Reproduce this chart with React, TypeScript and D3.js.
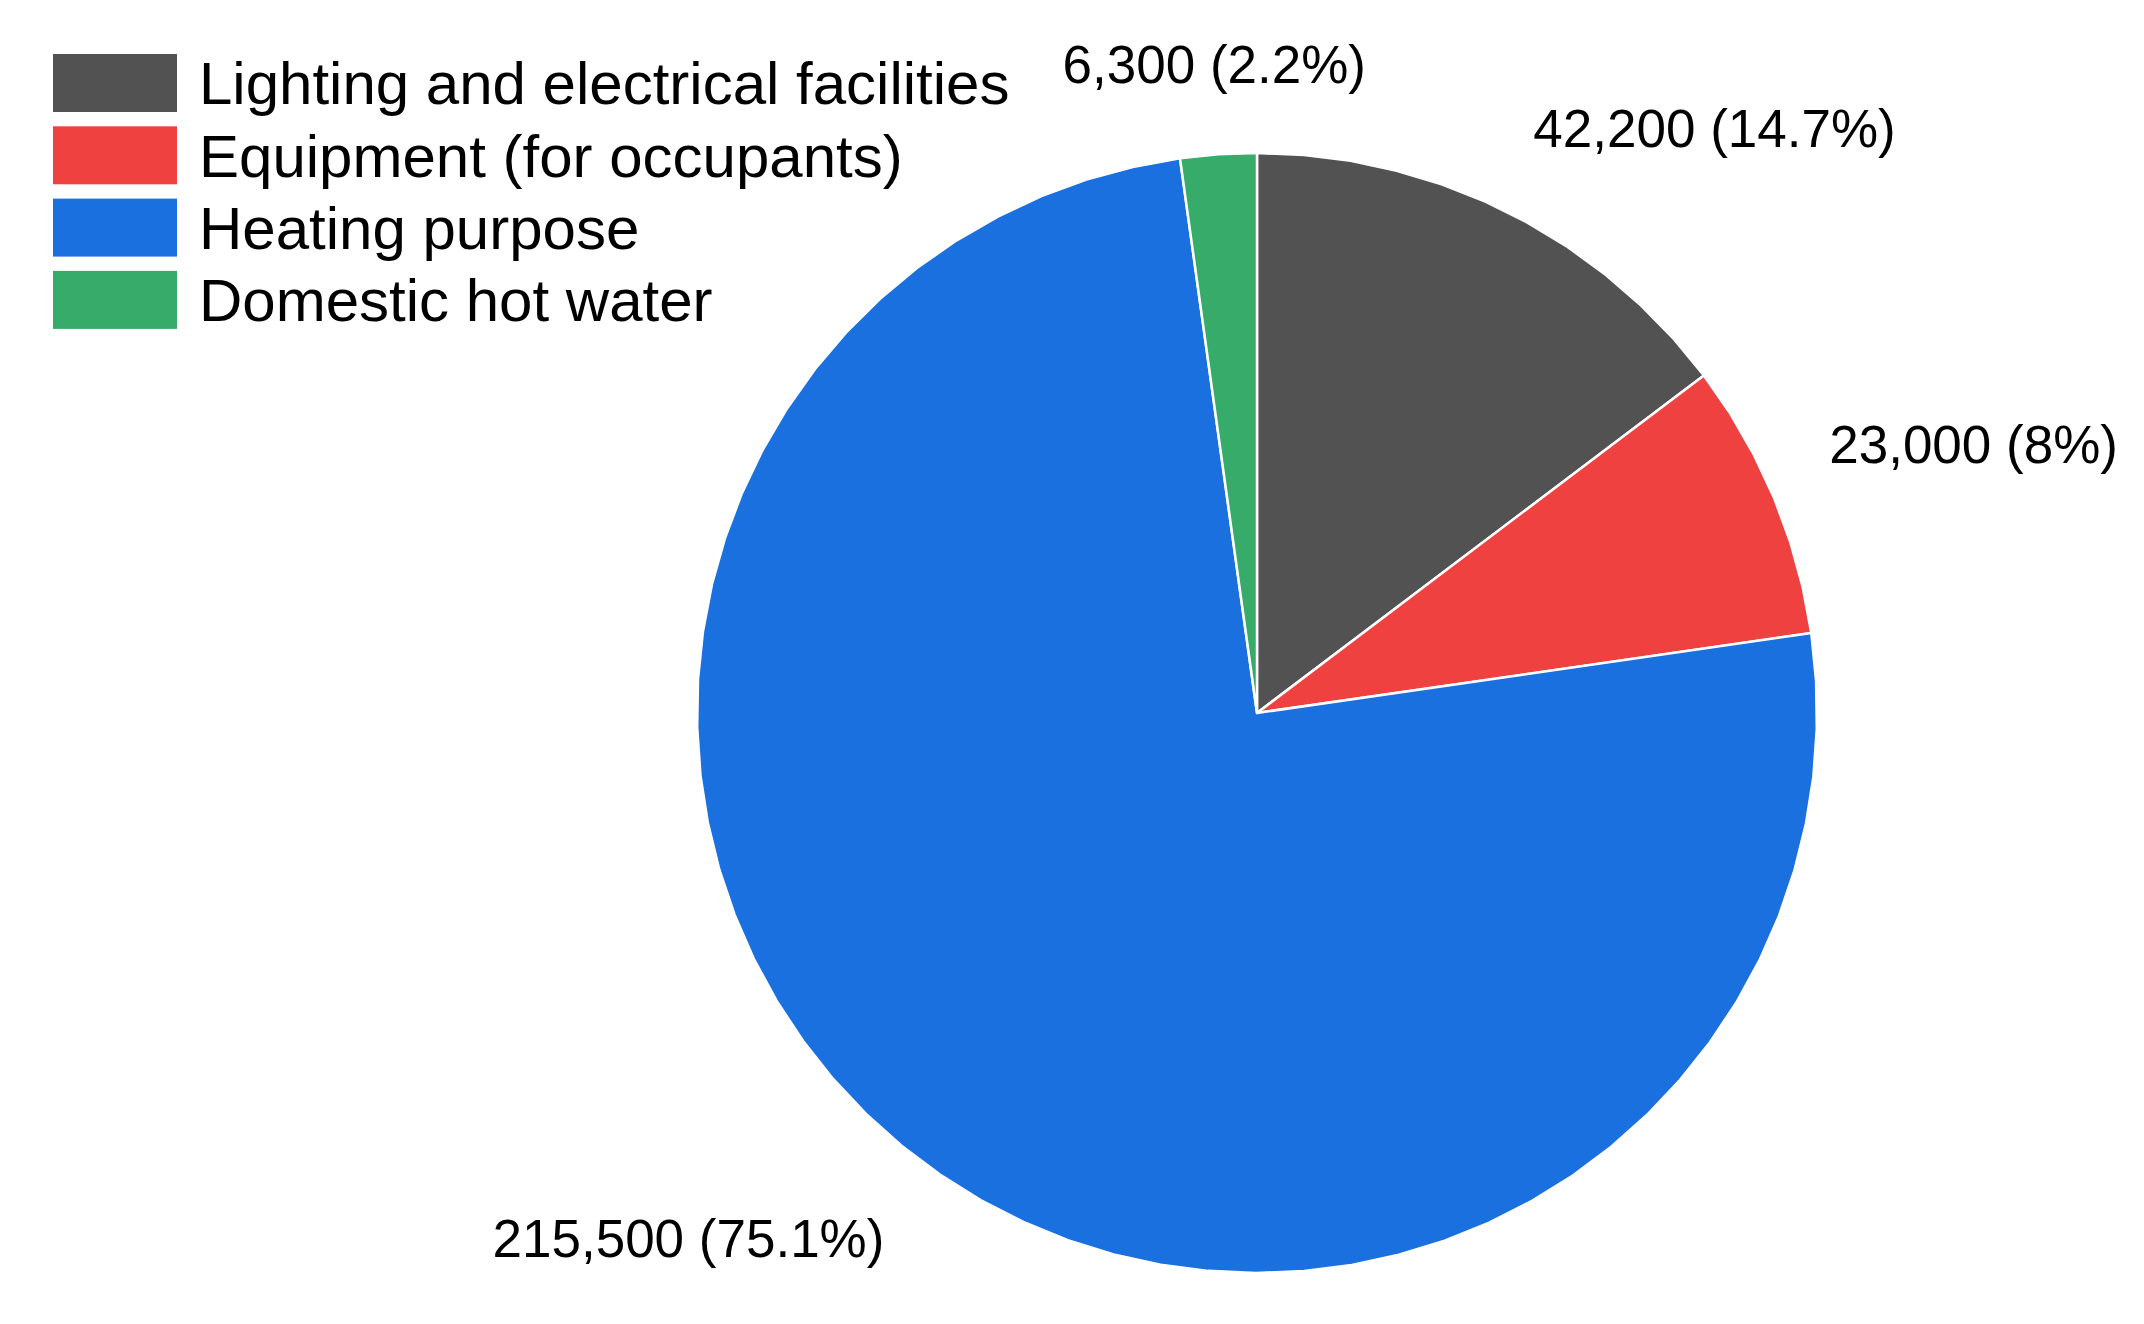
import React, { useEffect, useRef } from 'react'
import * as d3 from 'd3'

// energy use breakdown
const categories = ['Lighting and electrical facilities', 'Equipment (for occupants)', 'Heating purpose', 'Domestic hot water']
const values = [42200, 23000, 215500, 6300]
const percents = ['14.7%', '8%', '75.1%', '2.2%']
const colors = ['#525252', '#F04141', '#1B70DF', '#36AB6A']

const W = 2144
const H = 1324

export default function App() {
  const ref = useRef<SVGSVGElement>(null)

  useEffect(() => {
    const svg = d3.select(ref.current)
    svg.selectAll('*').remove()

    const cx = 1257, cy = 713, radius = 560
    const labelR = 620
    const fontLabel = 53
    const fontLegend = 60
    const font = "'Liberation Sans', Arial, Helvetica, sans-serif"

    const pie = d3.pie<number>().sort(null).value(d => d)
    const arcs = pie(values)

    // faceted wedge: outer edge made of short straight pieces, like the source
    const step = (5 * Math.PI) / 180
    const wedge = (a0: number, a1: number) => {
      const p = d3.path()
      p.moveTo(0, 0)
      const n = Math.max(1, Math.ceil((a1 - a0) / step))
      for (let i = 0; i <= n; i++) {
        const a = a0 + ((a1 - a0) * i) / n
        p.lineTo(radius * Math.sin(a), -radius * Math.cos(a))
      }
      p.closePath()
      return p.toString()
    }

    const g = svg.append('g').attr('transform', `translate(${cx},${cy})`)

    g.selectAll('path')
      .data(arcs)
      .enter()
      .append('path')
      .attr('d', d => wedge(d.startAngle, d.endAngle))
      .attr('fill', (d, i) => colors[i])
      .attr('stroke', '#fff')
      .attr('stroke-width', 2.5)
      .attr('stroke-linejoin', 'round')

    // value labels, nearest corner of text box sits on labelR
    g.selectAll('text.lbl')
      .data(arcs)
      .enter()
      .append('text')
      .attr('class', 'lbl')
      .style('font-family', font)
      .attr('font-size', fontLabel)
      .attr('fill', '#000')
      .each(function (d, i) {
        const a = (d.startAngle + d.endAngle) / 2
        const s = Math.sin(a), c = Math.cos(a)
        const px = labelR * s, py = -labelR * c
        const anchor = Math.abs(s) < 0.15 ? 'middle' : s > 0 ? 'start' : 'end'
        const y = c > 0 ? py - 0.21 * fontLabel : py + 0.905 * fontLabel
        d3.select(this)
          .attr('x', px)
          .attr('y', y)
          .attr('text-anchor', anchor)
          .text(`${d3.format(',')(values[i])} (${percents[i]})`)
      })

    // legend
    const rowH = 72.3
    const leg = svg.append('g').attr('transform', 'translate(53,54)')
    const rows = leg.selectAll('g')
      .data(categories)
      .enter()
      .append('g')
      .attr('transform', (d, i) => `translate(0,${i * rowH})`)
    rows.append('rect')
      .attr('width', 124)
      .attr('height', 58)
      .attr('fill', (d, i) => colors[i])
    rows.append('text')
      .attr('x', 146)
      .attr('y', 29 + 0.358 * fontLegend)
      .style('font-family', font)
      .attr('font-size', fontLegend)
      .attr('fill', '#000')
      .text(d => d)
  }, [])

  return (
    <svg ref={ref} width={W} height={H}
      style={{ position: 'absolute', left: 0, top: 0, background: '#fff' }} />
  )
}
